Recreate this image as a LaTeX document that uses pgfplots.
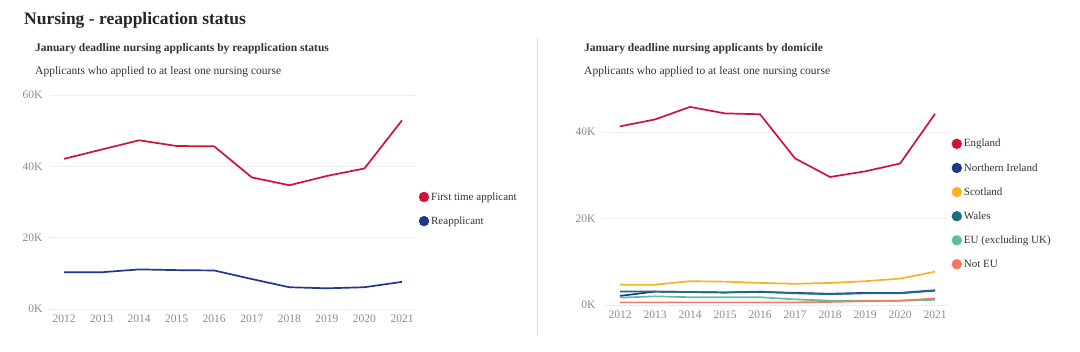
\documentclass[border=0pt]{standalone}
\usepackage{pgfplots}
\pgfplotsset{compat=1.18}
\usepackage{fontspec}
\setmainfont{Liberation Serif}
\definecolor{cred}{HTML}{CF1237}
\definecolor{cnavy}{HTML}{22368C}
\definecolor{cyell}{HTML}{F6B324}
\definecolor{cteal}{HTML}{1B6F7F}
\definecolor{cgreen}{HTML}{62BD98}
\definecolor{csalm}{HTML}{F07A62}
\definecolor{ctick}{HTML}{8A8A8A}
\definecolor{ctext}{HTML}{333333}
\pgfplotsset{
  myaxis/.style={
    scale only axis,
    axis line style={draw=none},
    tick style={draw=none},
    scaled y ticks=false,
    scaled x ticks=false,
    ymajorgrids,
    grid style={draw=black!7, line width=0.8pt},
    major tick length=0pt,
    tick label style={font=\fontsize{11.5}{13}\selectfont, text=ctick},
    /pgf/number format/assume math mode=true,
    xtick={2012,2013,2014,2015,2016,2017,2018,2019,2020,2021},
    xticklabels={2012,2013,2014,2015,2016,2017,2018,2019,2020,2021},
    xticklabel style={yshift=-2pt},
    yticklabel style={xshift=-4pt},
    every axis plot/.append style={line width=1.7pt},
    legend style={draw=none, fill=none, font=\fontsize{11}{13}\selectfont, text=ctext,
      row sep=11pt, inner sep=0pt, cells={anchor=west}},
    legend image code/.code={\fill[##1] (3pt,0pt) circle (4.3pt);},
    clip=false,
  }
}
\begin{document}
\begin{tikzpicture}
\path[use as bounding box] (0pt,0pt) rectangle (1080pt,352pt);
\node[anchor=base west, inner sep=0pt, text=black!85] at (24pt,327pt) {\fontsize{17.5}{20}\selectfont\bfseries Nursing - reapplication status};
\node[anchor=base west, inner sep=0pt, text=ctext] at (35pt,300pt) {\fontsize{11.5}{13}\selectfont\bfseries January deadline nursing applicants by reapplication status};
\node[anchor=base west, inner sep=0pt, text=ctext] at (35pt,277pt) {\fontsize{11.5}{13}\selectfont Applicants who applied to at least one nursing course};
\node[anchor=base west, inner sep=0pt, text=ctext] at (584pt,300pt) {\fontsize{11.5}{13}\selectfont\bfseries January deadline nursing applicants by domicile};
\node[anchor=base west, inner sep=0pt, text=ctext] at (584pt,277pt) {\fontsize{11.5}{13}\selectfont Applicants who applied to at least one nursing course};
\draw[black!12, line width=0.8pt] (537pt,314pt) -- (537pt,16pt);

\begin{axis}[myaxis, at={(50pt,43pt)}, anchor=south west,
  width=365pt, height=214pt,
  xmin=2011.627, xmax=2021.346, ymin=0, ymax=60000,
  ytick={0,20000,40000,60000}, yticklabels={0K,20K,40K,60K},
  legend style={at={(1.01,0.467)}, anchor=west}]
\addplot[cred, mark=none] coordinates {(2012,42100) (2013,44700) (2014,47300) (2015,45700) (2016,45600) (2017,36900) (2018,34700) (2019,37300) (2020,39400) (2021,52900)};
\addlegendentry{First time applicant}
\addplot[cnavy, mark=none] coordinates {(2012,10300) (2013,10300) (2014,11100) (2015,10900) (2016,10800) (2017,8400) (2018,6100) (2019,5800) (2020,6100) (2021,7600)};
\addlegendentry{Reapplicant}
\end{axis}

\begin{axis}[myaxis, at={(603pt,47pt)}, anchor=south west,
  width=345pt, height=205pt,
  xmin=2011.514, xmax=2021.37, ymin=0, ymax=47400,
  ytick={0,20000,40000}, yticklabels={0K,20K,40K},
  legend style={at={(1.01,0.493)}, anchor=west}]
\addplot[cred, mark=none] coordinates {(2012,41300) (2013,42900) (2014,45800) (2015,44300) (2016,44100) (2017,33900) (2018,29600) (2019,30900) (2020,32700) (2021,44200)};
\addlegendentry{England}
\addplot[cnavy, mark=none] coordinates {(2012,2100) (2013,3100) (2014,3000) (2015,2900) (2016,3000) (2017,2800) (2018,2600) (2019,2800) (2020,2800) (2021,3400)};
\addlegendentry{Northern Ireland}
\addplot[cyell, mark=none] coordinates {(2012,4700) (2013,4700) (2014,5500) (2015,5400) (2016,5100) (2017,4900) (2018,5100) (2019,5500) (2020,6100) (2021,7700)};
\addlegendentry{Scotland}
\addplot[cteal, mark=none] coordinates {(2012,3100) (2013,3100) (2014,3000) (2015,2900) (2016,3100) (2017,2700) (2018,2500) (2019,2700) (2020,2700) (2021,3300)};
\addlegendentry{Wales}
\addplot[cgreen, mark=none] coordinates {(2012,1700) (2013,2000) (2014,1800) (2015,1800) (2016,1800) (2017,1300) (2018,1000) (2019,1000) (2020,1000) (2021,1200)};
\addlegendentry{EU (excluding UK)}
\addplot[csalm, mark=none] coordinates {(2012,600) (2013,600) (2014,600) (2015,600) (2016,600) (2017,600) (2018,700) (2019,900) (2020,1000) (2021,1500)};
\addlegendentry{Not EU}
\end{axis}
\end{tikzpicture}
\end{document}
